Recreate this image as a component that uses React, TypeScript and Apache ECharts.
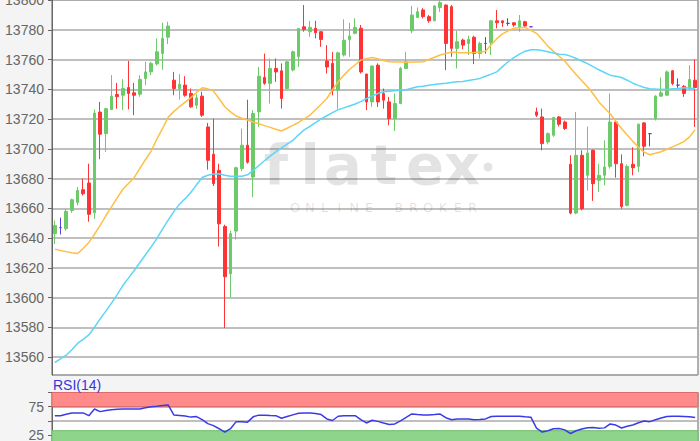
import React, { useEffect, useRef } from 'react';
import * as echarts from 'echarts';

const opens = [13643,13647,13646.3,13658.6,13664,13672.5,13677,13657,13724.7,13710.2,
13726.4,13736.5,13736,13741.2,13737.6,13736.7,13747.3,13751.7,13757,13764.1,
13775,13746.1,13740.5,13742.8,13737.2,13729.3,13735.4,13714.7,13696.3,13685.5,
13647.8,13616,13644.7,13686.7,13702.4,13681,13724.8,13748,13744,13754,
13752.4,13740.5,13753,13762,13782,13778.7,13781,13778.7,13759,13757.4,
13739.4,13763,13773.5,13777.6,13781,13750.2,13731.5,13756.2,13737.2,13731.5,
13720.3,13730.4,13754,13779.3,13788.3,13793.3,13788.8,13786,13795,13796.6,
13795.5,13767.5,13773.1,13770.8,13775,13764.1,13770.8,13771.3,13786,13786,
13784.3,13784.7,13782,13785.4,13782,13724.8,13721.4,13704.6,13709.1,13721.4,
13718,13689.6,13656.8,13695.6,13682.2,13699,13678.8,13682.2,13688.2,13718,
13690,13662,13689.6,13688.2,13717.4,13710.2,13720.3,13735.4,13736,13752.4,
13742.8,13742,13740.5,13746.1];

const closes = [13648.5,13647,13658,13665.8,13672,13669.8,13656,13724,13709.8,13727,
13735.4,13735,13740.5,13737.2,13736,13746.6,13751.7,13757.4,13765.2,13774.2,
13782.5,13740.5,13743.4,13736,13728.2,13734.2,13722.6,13692.3,13676.6,13649.6,
13614,13643,13687.3,13702.4,13691,13723.7,13748.8,13744,13754,13751.7,
13733.8,13758.5,13765.2,13780.9,13780.3,13781.6,13778,13773.5,13755,13739.4,
13764.5,13773,13775.8,13781.6,13751.7,13731.5,13755.6,13731.5,13732.7,13720.3,
13730.4,13754,13758.5,13789.9,13792.1,13788.8,13786,13796,13798.2,13770.8,
13767.5,13772,13769.7,13773.5,13764.1,13770.8,13770.8,13786,13784.7,13784.7,
13784.3,13783.2,13786,13782.5,13782,13722.6,13703.5,13710.2,13721,13716.5,
13713.6,13656.8,13695.6,13659.7,13697.2,13676.6,13682.2,13687.8,13718,13690,
13661.3,13688.2,13687.3,13716.5,13701.7,13710.2,13735.4,13737.6,13751.7,13743.9,
13742.8,13737.2,13746.6,13741.2];

const lows = [13636,13642.4,13645,13657,13662,13668.6,13651,13653,13693,13698,
13726,13727,13726,13726.5,13722.6,13735,13742.8,13749.5,13756,13753,
13770.4,13736,13733,13735,13727.5,13727,13721.4,13686,13675,13634.3,
13579.6,13600,13639,13685,13690,13667.5,13714.7,13743,13730.4,13745,
13727,13740,13752,13755,13778.7,13775.3,13774.2,13768.6,13750.6,13736,
13727,13762,13761.8,13777,13750.6,13726,13728.2,13728.2,13727,13715.8,
13712,13730,13754,13777.6,13788,13787.6,13784.7,13786,13792,13752.9,
13761.8,13754,13767,13763,13756.9,13760.7,13764,13763,13781,13782,
13782.7,13782,13778.7,13782,13782,13721.4,13699,13703,13708,13715,
13712.7,13655.9,13656,13658.6,13672,13665,13671,13675.4,13686.7,13680.6,
13659.7,13661.3,13682.2,13684.4,13695,13701.7,13719,13735,13736,13742.8,
13741,13734.9,13740,13714.7];

const highs = [13651.8,13653.7,13659.7,13666.5,13674.3,13680,13690,13726.4,13731.5,13727.5,
13749.5,13744.3,13746.8,13759,13744.3,13749.5,13758.5,13758.5,13774.2,13784.7,
13785.4,13751.7,13750.2,13748.8,13740.5,13736.7,13738.3,13717.4,13720.3,13690,
13649,13645,13688,13713.6,13733,13726,13755,13764,13760.7,13760.7,
13757.4,13759,13766,13781.2,13796.6,13786,13786,13779,13769.7,13765,
13765.2,13787,13784.7,13787.7,13783.2,13750.5,13756,13757.4,13740.5,13734.9,
13737.2,13755,13765.2,13796,13795,13794.5,13789.9,13796.6,13799.5,13797,
13796.6,13779.3,13774,13776,13776,13772,13775,13786.5,13793.3,13786.2,
13787.7,13785,13789.9,13786,13782,13727.7,13727,13711,13721.4,13722,
13719,13695.6,13724.8,13699,13715,13699.5,13690,13705.7,13737.2,13718.5,
13696.3,13689.5,13701,13717,13718,13710.6,13736,13747.9,13752.7,13753,
13747.3,13742.8,13756.2,13760];

const maOrange = [13632.6,13631.7,13630.9,13630.1,13629.6,13633,13637,13642.6,13648.6,13655,
13661,13667,13672.8,13676.7,13680.6,13686.8,13692.8,13698.5,13706.5,13713.5,
13721.3,13725,13728.4,13731.4,13734.4,13737.9,13741,13740.3,13738.8,13733.6,
13728.3,13724.8,13722,13720.5,13719.4,13718,13716.8,13715.6,13714.4,13713.2,
13712,13713.8,13715.7,13717.7,13720.1,13722.5,13726.3,13730,13733.8,13739.7,
13745,13749.5,13753.3,13756.5,13759.6,13760.6,13761.3,13760.6,13759.3,13758.5,
13758.4,13758.3,13758.2,13758.3,13758.4,13758.5,13760,13761.5,13763,13764,
13765,13764.8,13764.5,13764.5,13764.7,13765,13765.5,13770,13774,13777.2,
13779.3,13781,13781.3,13781.6,13779.6,13777.6,13773.5,13769,13765.5,13762.2,
13758.8,13754.3,13750,13745.8,13741.7,13737,13731.5,13727.4,13723.6,13718.5,
13713.6,13709.3,13705,13701,13697.8,13696,13697,13698,13699.7,13701.3,
13703,13704.8,13708,13712.8];

const maCyan = [13556.4,13558.9,13561.3,13565,13569.2,13572,13574.9,13580.1,13585.7,13590.9,
13596.3,13602,13608.1,13613.1,13618.2,13623.4,13628.8,13634.1,13639.6,13646,
13652.1,13657.8,13662.8,13666.5,13670.6,13675.8,13680.7,13682.2,13683,13683.2,
13682.3,13681.5,13681.5,13681.6,13682.5,13685.5,13688.8,13692,13695.1,13698,
13700.7,13703.1,13705.6,13709.4,13712.7,13715,13717.6,13720.1,13722.2,13724.3,
13726.3,13727.5,13728.8,13730.1,13731.7,13733.7,13735.5,13737.2,13738.3,13738.7,
13739,13739.3,13739.7,13740.7,13741.7,13742.1,13742.7,13743.2,13743.7,13744.1,
13744.6,13745,13745.3,13745.9,13746.5,13747.3,13748.8,13750.2,13751.7,13755.2,
13758.5,13761.3,13763.6,13765.6,13766.6,13766.5,13766,13765.2,13764.4,13763.6,
13763.4,13762.3,13760.7,13759,13757.2,13755.2,13753.1,13751.3,13749.5,13748.8,
13747.9,13746.1,13744.1,13742.6,13741.2,13740.4,13740.2,13740.1,13739.9,13740.3,
13740.6,13741,13740.9,13740.3];

const rsiValues = [59.1,59.1,61.5,63.9,63.9,63.9,59.1,70.9,66.2,68,
69.7,70.5,70.9,70.9,70.9,70.9,73,74.8,75.7,77,
78,60.3,59.5,58.5,56.5,57.5,52,45,41.5,36,
29.8,36,48.5,48.5,47.6,57,60,60,59.5,59.1,
54.5,57.5,60.5,63.5,63.9,63.9,63,61,53.3,50.5,
58,59.1,59.1,59.1,52,46.2,51,49,46,43.5,
44.4,50,56,62.1,61,60.3,60.3,61,62,55.5,
52,53,53.3,53.3,52,52.5,53.3,57.5,58,58,
58,58,58,57,56.4,37,30.2,32.5,35.8,36.3,
34,27.5,32.5,35.6,37.8,38,36.8,37.5,44.5,42.5,
37.3,40.5,42.7,46.5,49.8,48.5,51.8,54.8,57.5,58,
58,57.5,57,56];

const rsiLabels = [25, 75];
const rsiOverbought = [75, 100];
const rsiOversold = [0, 32.5];
const watermarkWord = 'flatex';
const watermarkSub = 'ONLINE BROKER';

const UP = '#6ccb68';
const DOWN = '#ff3333';
const DOJI = '#5a3fe0';
const AXIS_FONT = "'Liberation Sans', Arial, sans-serif";

export default function App() {
  const ref = useRef<HTMLDivElement>(null);

  useEffect(() => {
    if (!ref.current) return;
    const chart = echarts.init(ref.current, undefined, { renderer: 'svg' });
    const categories = opens.map((_, i) => String(i));
    const candleData = opens.map((o, i) => {
      const c = closes[i];
      const item: any = { value: [o, c, lows[i], highs[i]] };
      if (o === c) {
        item.itemStyle = { color: DOJI, color0: DOJI, borderColor: DOJI, borderColor0: DOJI };
      }
      return item;
    });

    const wmLetterX = [276, 310, 343, 384, 425, 462];
    const graphics: any[] = [];
    watermarkWord.split('').forEach((ch, k) => {
      graphics.push({
        type: 'text', x: wmLetterX[k], y: 164, z: 1, silent: true,
        style: {
          text: ch, fill: 'rgba(0,0,0,0.11)', fontSize: 56, fontWeight: 'bold',
          fontFamily: "'DejaVu Sans', sans-serif", align: 'center', verticalAlign: 'middle',
        },
      });
    });
    graphics.push({ type: 'circle', z: 1, silent: true, shape: { cx: 488, cy: 167, r: 4.5 }, style: { fill: 'rgba(0,0,0,0.11)' } });
    watermarkSub.split('').forEach((ch, k) => {
      graphics.push({
        type: 'text', x: 295 + k * 14.8, y: 207, z: 1, silent: true,
        style: {
          text: ch, fill: 'rgba(0,0,0,0.13)', fontSize: 13,
          fontFamily: "'DejaVu Sans', sans-serif", align: 'center', verticalAlign: 'middle',
        },
      });
    });
    graphics.push({
      type: 'text', x: 53, y: 385, z: 5,
      style: { text: 'RSI(14)', fill: '#3535e0', fontSize: 14, fontFamily: AXIS_FONT, align: 'left', verticalAlign: 'middle' },
    });

    chart.setOption({
      animation: false,
      backgroundColor: '#f4f4f4',
      grid: [
        { left: 52, width: 646, top: 0, height: 375, show: true, backgroundColor: '#ffffff', borderColor: '#666', borderWidth: 1, outerBoundsMode: 'none', containLabel: false },
        { left: 52, width: 646, top: 392.5, height: 56.6, show: true, backgroundColor: '#ffffff', borderColor: '#666', borderWidth: 1, outerBoundsMode: 'none', containLabel: false },
      ],
      xAxis: [
        { type: 'category', data: categories, gridIndex: 0, boundaryGap: true, show: false },
        { type: 'category', data: categories, gridIndex: 1, boundaryGap: true, show: false },
      ],
      yAxis: [
        {
          type: 'value', gridIndex: 0, min: 13548, max: 13800, splitNumber: 13, scale: true,
          axisLine: { show: true, lineStyle: { color: '#666', width: 1 } },
          axisTick: { show: true, length: 4, lineStyle: { color: '#666' } },
          axisLabel: { color: '#666', fontSize: 14, fontFamily: AXIS_FONT, margin: 8, showMinLabel: false, formatter: (v: number) => String(v) },
          splitLine: { show: true, lineStyle: { color: '#aaaaaa', width: 1.5 } },
        },
        {
          type: 'value', gridIndex: 1, min: 0, max: 100, interval: 25,
          axisLine: { show: true, lineStyle: { color: '#666', width: 1 } },
          axisTick: { show: true, length: 4, lineStyle: { color: '#666' } },
          axisLabel: {
            color: '#666', fontSize: 14, fontFamily: AXIS_FONT, margin: 8,
            formatter: (v: number) => (rsiLabels.indexOf(v) >= 0 ? String(v) : ''),
          },
          splitLine: { show: true, lineStyle: { color: '#aaaaaa', width: 1.5 } },
        },
      ],
      graphic: graphics,
      series: [
        {
          type: 'candlestick', xAxisIndex: 0, yAxisIndex: 0, data: candleData, barWidth: 3.2, z: 3,
          itemStyle: { color: UP, color0: DOWN, borderColor: UP, borderColor0: DOWN, borderWidth: 1 },
        },
        {
          type: 'line', xAxisIndex: 0, yAxisIndex: 0, data: maOrange, symbol: 'none', z: 4,
          lineStyle: { color: '#ffbf45', width: 1.5 },
        },
        {
          type: 'line', xAxisIndex: 0, yAxisIndex: 0, data: maCyan, symbol: 'none', z: 4,
          lineStyle: { color: '#5cd6f7', width: 1.5 },
        },
        {
          type: 'line', xAxisIndex: 1, yAxisIndex: 1, data: rsiValues, symbol: 'none', z: 4,
          lineStyle: { color: '#3a3ae8', width: 1.5 },
          markArea: {
            silent: true,
            data: [
              [{ yAxis: rsiOverbought[0], itemStyle: { color: '#ff8a8a', borderColor: '#dd6a6a', borderWidth: 1 } }, { yAxis: rsiOverbought[1] }],
              [{ yAxis: rsiOversold[0], itemStyle: { color: '#8ed48a', borderColor: '#6cbd68', borderWidth: 1 } }, { yAxis: rsiOversold[1] }],
            ],
          },
        },
      ],
    });
    return () => chart.dispose();
  }, []);

  return <div ref={ref} style={{ position: 'absolute', left: 0, top: 0, width: 700, height: 441 }} />;
}
